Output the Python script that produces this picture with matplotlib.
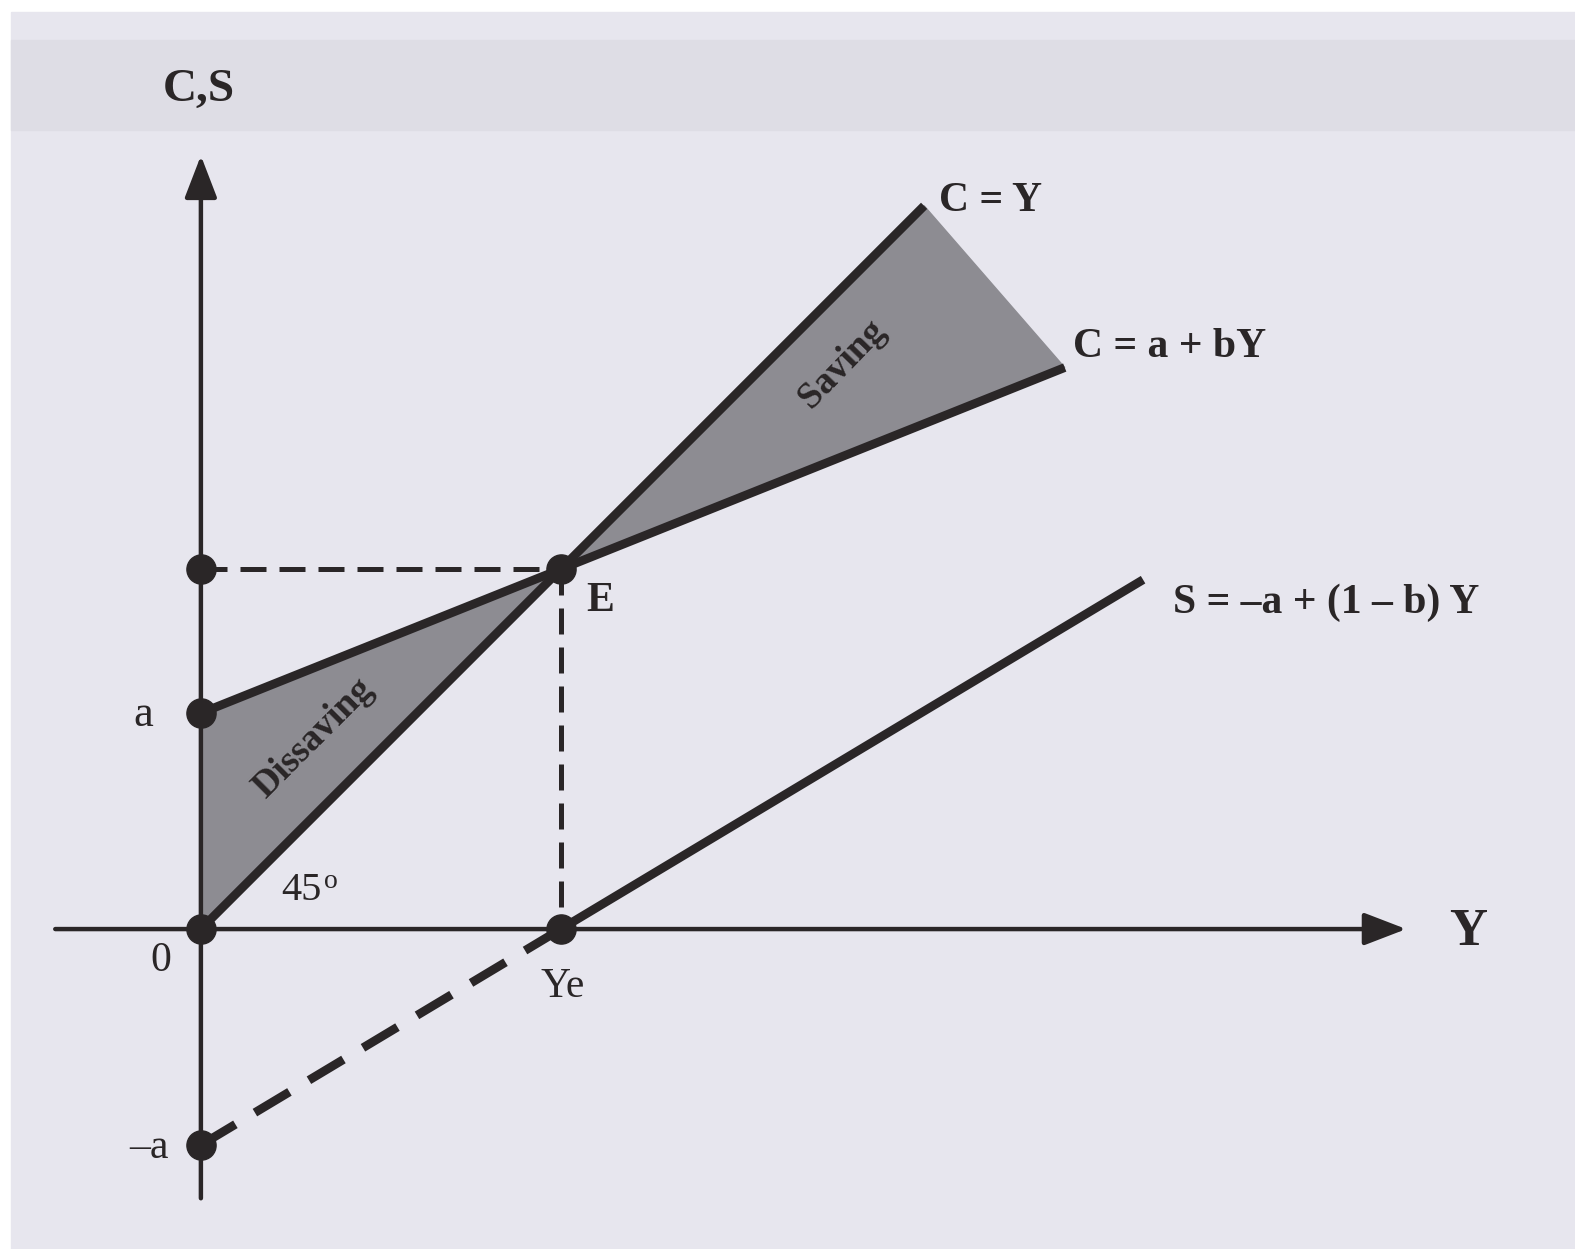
import numpy as np
import matplotlib.pyplot as plt
from matplotlib.patches import Rectangle

# Fungsi konsumsi dan tabungan (satuan sembarang)
a = 2.15            # konsumsi otonom
b = 0.40            # MPC
Ye = a / (1 - b)    # pendapatan keseimbangan

y_end_45 = 7.2      # ujung garis C = Y
y_end_c = 8.6       # ujung garis C = a + bY
y_end_s = 9.38      # ujung garis S

eq_labels = ["C = Y", "C = a + bY", "S = \u2013a + (1 \u2013 b) Y"]

INK = "#2a2627"
FILL = "#8d8c92"
BG = "#e7e6ee"
plt.rcParams['font.family'] = ['Liberation Serif', 'DejaVu Serif']

fig = plt.figure(figsize=(15.75, 12.49), dpi=100)
ax = fig.add_axes([0, 0, 1, 1])
ax.set_xlim(-2.0, 13.68)
ax.set_ylim(-3.185, 9.249)
ax.axis('off')

# latar kertas hasil scan
ax.add_patch(Rectangle((0, 0), 1, 1, transform=ax.transAxes, color="white", zorder=0))
ax.add_patch(Rectangle((0.007, 0), 0.993, 0.99, transform=ax.transAxes, color=BG, zorder=0))
ax.add_patch(Rectangle((0.007, 0.896), 0.993, 0.072, transform=ax.transAxes,
                       color="#dedde5", zorder=0))

# sumbu
ax.annotate('', xy=(0, 7.70), xytext=(0, -2.68),
            arrowprops=dict(arrowstyle='-|>,head_length=1.3,head_width=0.5', lw=3.2,
                            color=INK, mutation_scale=20, shrinkA=0, shrinkB=0), zorder=3)
ax.annotate('', xy=(12.0, 0), xytext=(-1.45, 0),
            arrowprops=dict(arrowstyle='-|>,head_length=1.3,head_width=0.5', lw=3.2,
                            color=INK, mutation_scale=20, shrinkA=0, shrinkB=0), zorder=3)

# area dissaving dan saving
ax.fill([0, 0, Ye], [0, a, Ye], color=FILL, zorder=1)
ax.fill([Ye, y_end_45, y_end_c], [Ye, y_end_45, a + b * y_end_c], color=FILL, zorder=1)

# garis-garis
y45 = np.array([0, y_end_45])
ax.plot(y45, y45, color=INK, lw=6.3, solid_capstyle='butt', zorder=4)
yc = np.array([0, y_end_c])
ax.plot(yc, a + b * yc, color=INK, lw=6.3, solid_capstyle='butt', zorder=4)
ys = np.array([Ye, y_end_s])
ax.plot(ys, -a + (1 - b) * ys, color=INK, lw=6.3, solid_capstyle='butt', zorder=4)
ysd = np.array([0, Ye])
ax.plot(ysd, -a + (1 - b) * ysd, color=INK, lw=6.3, dashes=(4.6, 2.6),
        dash_capstyle='butt', zorder=4)

# garis putus-putus ke titik E
ax.plot([0, Ye], [Ye, Ye], color=INK, lw=3.6, dashes=(5.2, 2.6), zorder=3)
ax.plot([Ye, Ye], [Ye, 0], color=INK, lw=3.6, dashes=(5.2, 2.6), zorder=3)

# titik
px = [0, 0, 0, 0, Ye, Ye]
py = [0, a, -a, Ye, Ye, 0]
ax.plot(px, py, 'o', color=INK, ms=21, zorder=5)

# label
ax.text(-0.02, 8.35, "C,S", fontsize=34, fontweight='bold', color=INK, ha='center', va='center')
ax.text(12.62, -0.03, "Y", fontsize=38, fontweight='bold', color=INK, ha='center', va='center')
ax.text(y_end_45 + 0.15, y_end_45 + 0.05, eq_labels[0], fontsize=30, fontweight='bold',
        color=INK, ha='left', va='center')
ax.text(y_end_c + 0.08, a + b * y_end_c + 0.2, eq_labels[1], fontsize=30, fontweight='bold',
        color=INK, ha='left', va='center')
ax.text(y_end_s + 0.3, 3.25, eq_labels[2], fontsize=30, fontweight='bold',
        color=INK, ha='left', va='center')
ax.text(Ye + 0.25, Ye - 0.32, "E", fontsize=30, fontweight='bold', color=INK,
        ha='left', va='center')
ax.text(-0.57, a - 0.02, "a", fontsize=32, color=INK, ha='center', va='center')
ax.text(-0.4, -0.32, "0", fontsize=30, color=INK, ha='center', va='center')
ax.text(-0.52, -2.18, "\u2013a", fontsize=30, color=INK, ha='center', va='center')
ax.text(Ye + 0.02, -0.57, "Ye", fontsize=30, color=INK, ha='center', va='center')
ax.text(1.0, 0.38, "45", fontsize=29, color=INK, ha='center', va='center')
ax.text(1.29, 0.47, "o", fontsize=20, color=INK, ha='center', va='center')
ax.text(6.38, 5.63, "Saving", fontsize=27, fontweight='bold', color=INK,
        ha='center', va='center', rotation=46)
ax.text(1.12, 1.9, "Dissaving", fontsize=27, fontweight='bold', color=INK,
        ha='center', va='center', rotation=45)

fig.savefig("out.png", dpi=100)
